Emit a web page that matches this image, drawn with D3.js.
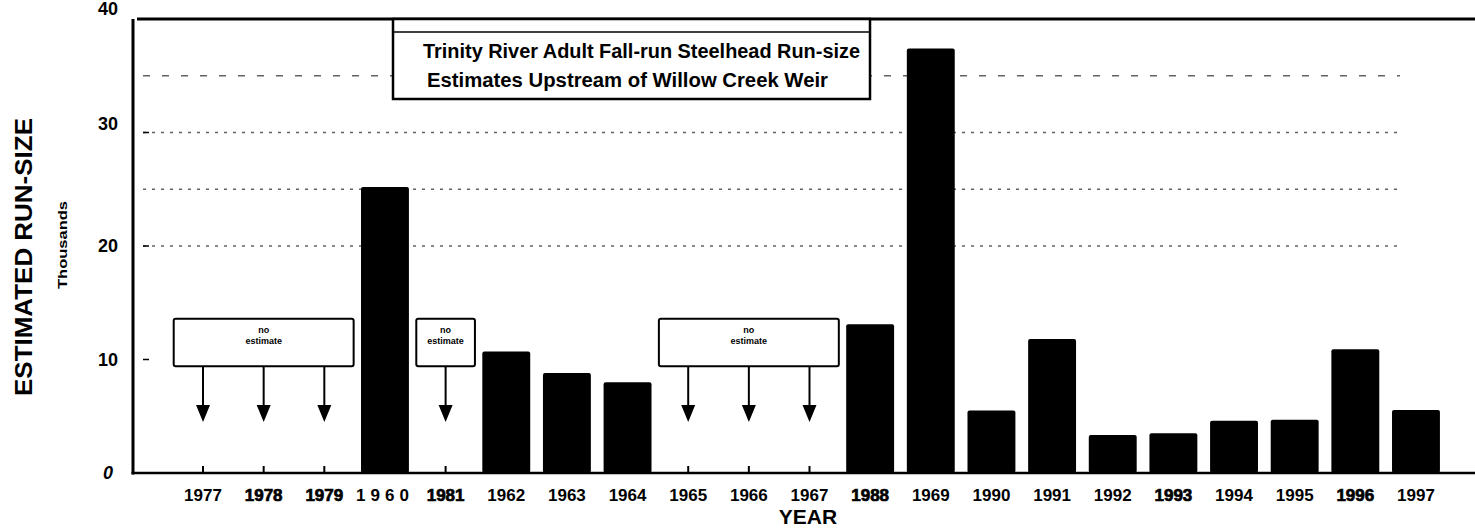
<!DOCTYPE html>
<html>
<head>
<meta charset="utf-8">
<script src="https://cdn.jsdelivr.net/npm/d3@7"></script>
<style>
  body { margin: 0; background: #fff; }
  svg { display: block; font-family: "Liberation Sans", Arial, sans-serif; }
</style>
</head>
<body>
<script>
"use strict";

// years as printed on the scanned chart
const categories = ["1977","1978","1979","1960","1981","1962","1963","1964","1965","1966","1967",
                    "1988","1969","1990","1991","1992","1993","1994","1995","1996","1997"];
// thousands of fish, null = no estimate
const runSize = [null,null,null,25.2,null,10.7,8.8,8.0,null,null,null,
                 13.1,37.4,5.5,11.8,3.35,3.5,4.6,4.7,10.9,5.55];
const yTicks = [0,10,20,30,40];
const gridValues = [20,25,30,35];
const noEstimateGroups = [["1977","1978","1979"],["1981"],["1965","1966","1967"]];
const heavyLabels = ["1978","1979","1981","1988","1993","1996"];
const spacedLabels = ["1960"];
const titleLines = ["Trinity River Adult Fall-run Steelhead Run-size",
                    "Estimates Upstream of Willow Creek Weir"];

const width = 1475, height = 528;

const svg = d3.select("body").append("svg")
    .attr("width", width)
    .attr("height", height);

const x = d3.scaleBand()
    .domain(categories)
    .range([172.7, 1446.3])
    .paddingInner(0.21)
    .paddingOuter(0.105);

const y = d3.scaleLinear()
    .domain([0, 40])
    .range([473, 19]);

const cx = d => x(d) + x.bandwidth() / 2;

// faint dashed gridlines
svg.append("g").selectAll("line")
    .data(gridValues)
  .join("line")
    .attr("x1", 143).attr("x2", 1400)
    .attr("y1", d => y(d)).attr("y2", d => y(d))
    .attr("stroke", "#222")
    .attr("stroke-width", 1.3)
    .attr("stroke-dasharray", d => d === 35 ? "7,12" : "3,6")
    .attr("opacity", 0.7);

// small inner ticks on the value axis
svg.append("g").selectAll("line")
    .data(yTicks.filter(d => d > 0 && d < 40))
  .join("line")
    .attr("x1", 143).attr("x2", 149)
    .attr("y1", d => y(d)).attr("y2", d => y(d))
    .attr("stroke", "#000").attr("stroke-width", 1.5);

// bars
const rows = categories.map((c, i) => ({ year: c, value: runSize[i] }));
svg.append("g").selectAll("rect")
    .data(rows.filter(d => d.value !== null))
  .join("rect")
    .attr("x", d => x(d.year))
    .attr("y", d => y(d.value))
    .attr("width", x.bandwidth())
    .attr("height", d => y(0) - y(d.value))
    .attr("rx", 2)
    .attr("fill", "#000");

// axis frame
svg.append("line")
    .attr("x1", 133).attr("x2", 133).attr("y1", 19).attr("y2", 474.5)
    .attr("stroke", "#000").attr("stroke-width", 3);
svg.append("line")
    .attr("x1", 137).attr("x2", width).attr("y1", 19).attr("y2", 19)
    .attr("stroke", "#000").attr("stroke-width", 3);
svg.append("line")
    .attr("x1", 131.5).attr("x2", width).attr("y1", y(0)).attr("y2", y(0))
    .attr("stroke", "#000").attr("stroke-width", 2.5);

// inner x ticks
svg.append("g").selectAll("line")
    .data(categories)
  .join("line")
    .attr("x1", d => cx(d)).attr("x2", d => cx(d))
    .attr("y1", y(0)).attr("y2", y(0) - 7)
    .attr("stroke", "#000").attr("stroke-width", 2);

// value labels
svg.append("g").selectAll("text")
    .data(yTicks)
  .join("text")
    .attr("x", d => d === 0 ? 113 : 118)
    .attr("y", d => y(d) + (d === 40 ? -4 : (d === 30 ? -3 : 6)))
    .attr("text-anchor", "end")
    .attr("font-size", 18)
    .attr("font-weight", "bold")
    .attr("font-style", d => d === 0 ? "italic" : "normal")
    .text(d => d);

// year labels
svg.append("g").selectAll("text")
    .data(categories)
  .join("text")
    .attr("x", d => cx(d))
    .attr("y", 501)
    .attr("text-anchor", "middle")
    .attr("font-size", 17)
    .attr("font-weight", "bold")
    .attr("letter-spacing", d => spacedLabels.includes(d) ? 5 : 0)
    .attr("stroke", d => heavyLabels.includes(d) ? "#000" : "none")
    .attr("stroke-width", 0.7)
    .text(d => d);

svg.append("text")
    .attr("x", 808).attr("y", 524)
    .attr("text-anchor", "middle")
    .attr("font-size", 21)
    .attr("font-weight", "bold")
    .text("YEAR");

// axis titles
svg.append("text")
    .attr("transform", "translate(32,257) rotate(-90)")
    .attr("text-anchor", "middle")
    .attr("font-size", 23)
    .attr("font-weight", "bold")
    .attr("textLength", 278)
    .attr("lengthAdjust", "spacingAndGlyphs")
    .text("ESTIMATED RUN-SIZE");
svg.append("text")
    .attr("transform", "translate(67,245) rotate(-90)")
    .attr("text-anchor", "middle")
    .attr("font-size", 13)
    .attr("font-weight", "bold")
    .attr("textLength", 88)
    .attr("lengthAdjust", "spacingAndGlyphs")
    .text("Thousands");

// "no estimate" boxes with arrows
const half = x.step() / 2;
const boxTop = y(13.6), boxBottom = y(9.4), arrowTip = y(4.5);
const groups = svg.append("g").selectAll("g")
    .data(noEstimateGroups)
  .join("g");

groups.append("rect")
    .attr("x", d => cx(d[0]) - half + 1)
    .attr("y", boxTop)
    .attr("width", d => cx(d[d.length - 1]) - cx(d[0]) + 2 * half - 2)
    .attr("height", boxBottom - boxTop)
    .attr("rx", 2)
    .attr("fill", "#fff")
    .attr("stroke", "#000")
    .attr("stroke-width", 2);

groups.append("text")
    .attr("x", d => (cx(d[0]) + cx(d[d.length - 1])) / 2)
    .attr("y", boxTop + 14)
    .attr("text-anchor", "middle")
    .attr("font-size", 9)
    .attr("font-weight", "bold")
    .text("no");
groups.append("text")
    .attr("x", d => (cx(d[0]) + cx(d[d.length - 1])) / 2)
    .attr("y", boxTop + 25)
    .attr("text-anchor", "middle")
    .attr("font-size", 9)
    .attr("font-weight", "bold")
    .text("estimate");

const arrows = svg.append("g").selectAll("g")
    .data(noEstimateGroups.flat())
  .join("g");
arrows.append("line")
    .attr("x1", d => cx(d)).attr("x2", d => cx(d))
    .attr("y1", boxBottom).attr("y2", arrowTip - 12)
    .attr("stroke", "#000").attr("stroke-width", 2);
arrows.append("path")
    .attr("d", d => `M${cx(d) - 7},${arrowTip - 17}L${cx(d) + 7},${arrowTip - 17}L${cx(d)},${arrowTip}Z`)
    .attr("fill", "#000");

// title box
svg.append("rect")
    .attr("x", 393).attr("y", 19)
    .attr("width", 477).attr("height", 80)
    .attr("fill", "#fff")
    .attr("stroke", "#000")
    .attr("stroke-width", 2.5);
svg.append("line")
    .attr("x1", 393).attr("x2", 870).attr("y1", 32).attr("y2", 32)
    .attr("stroke", "#000").attr("stroke-width", 1.5);
svg.append("text")
    .attr("x", 423).attr("y", 58)
    .attr("font-size", 20)
    .attr("font-weight", "bold")
    .attr("textLength", 437)
    .attr("lengthAdjust", "spacingAndGlyphs")
    .text(titleLines[0]);
svg.append("text")
    .attr("x", 427).attr("y", 87)
    .attr("font-size", 20)
    .attr("font-weight", "bold")
    .attr("textLength", 401)
    .attr("lengthAdjust", "spacingAndGlyphs")
    .text(titleLines[1]);
</script>
</body>
</html>
